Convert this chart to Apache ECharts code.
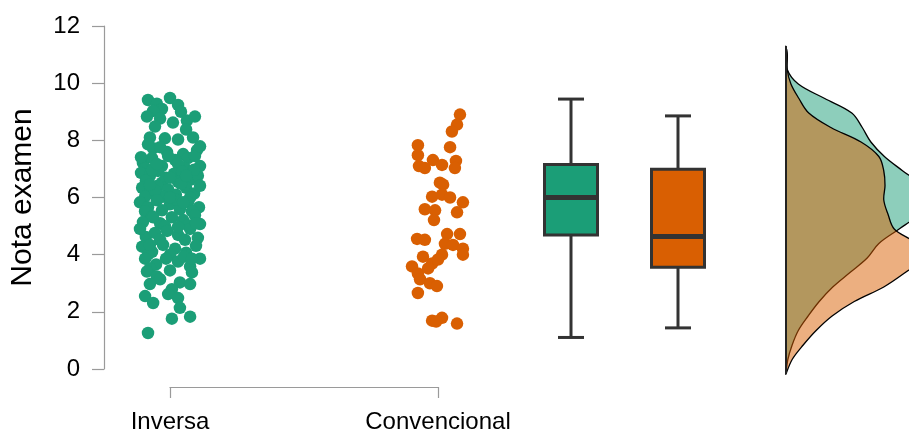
<!DOCTYPE html>
<html>
<head>
<meta charset="utf-8">
<script src="https://cdn.jsdelivr.net/npm/echarts@6/dist/echarts.min.js"></script>
<style>
  html, body { margin: 0; padding: 0; background: #fff; }
  #main { width: 909px; height: 434px; }
</style>
</head>
<body>
<div id="main"></div>
<script>
// groups and colours
const groups = ['Inversa', 'Convencional'];
const groupColors = ['#1b9e77', '#d95f02'];

// jittered points: offset from the group position, and score
const inversaJitter = [-0.082, -0.049, 0, 0.030, -0.030, -0.063, 0.041,
  0.063, 0.093, -0.086, 0.011, -0.037,
  -0.056, -0.019, 0.030, 0.086, 0.060, -0.075,
  -0.082, -0.063, -0.011, 0.049, 0.101, -0.037,
  -0.101, -0.067, -0.030, 0.019, 0.067, 0.112, -0.007, -0.093, 0.056, 0.093, 0.030,
  -0.108, -0.075, -0.045, -0.015, 0.015, 0.045, 0.075, 0.104, -0.090, -0.030, 0.030, -0.067, 0.090,
  -0.104, -0.075, -0.045, -0.007, 0.022, 0.060, 0.090, 0.112, -0.093, -0.026, 0.041, 0.075, -0.056,
  -0.112, -0.082, -0.049, 0, 0.037, 0.067, 0.108, -0.030, -0.093, 0.082, 0.022,
  -0.101, -0.067, -0.037, 0.007, 0.049, 0.093, 0.112, -0.019, 0.067,
  -0.090, -0.056, -0.011, 0.030, 0.075, 0.104, -0.037, 0.056,
  -0.104, -0.067, -0.026, 0.019, 0.060, 0.097, 0, -0.082,
  -0.093, -0.052, -0.015, 0.030, 0.075, 0.112, -0.075, 0.052,
  -0.086, -0.049, 0, -0.037, 0.082, 0.037,
  -0.075, 0.075, 0.007, -0.007, -0.093,
  -0.063, 0.030, 0.037,
  0.075, 0.007,
  -0.082,
  -0.108, 0.112, -0.049, 0, 0.060, -0.075, 0, 0.049, -0.063, 0.030, -0.075, 0.082, -0.112, 0.097];
const inversaScores = [9.41, 9.28, 9.48, 9.24, 9.10, 9.03, 9.00,
  8.69, 8.83, 8.83, 8.62, 8.76,
  8.48, 8.07, 8.03, 8.10, 8.38, 8.10,
  7.86, 7.72, 7.59, 7.52, 7.66, 7.76,
  7.21, 7.38, 7.10, 7.31, 7.38, 7.10, 7.45, 7.03, 7.03, 7.45, 7.17,
  6.86, 6.76, 6.93, 6.69, 6.83, 6.90, 6.62, 6.76, 6.59, 6.52, 6.55, 6.97, 6.97,
  6.34, 6.17, 6.41, 6.28, 6.10, 6.34, 6.14, 6.41, 6.03, 6.03, 6.48, 6.00, 6.24,
  5.83, 5.66, 5.90, 5.76, 5.59, 5.83, 5.66, 5.55, 5.52, 5.52, 5.93,
  5.14, 5.34, 5.10, 5.31, 5.21, 5.38, 5.07, 5.00, 5.03,
  4.62, 4.76, 4.83, 4.69, 4.90, 4.59, 4.52, 4.52,
  4.28, 4.10, 4.34, 4.21, 4.07, 4.31, 4.00, 4.00,
  3.86, 3.66, 3.86, 3.76, 3.59, 3.86, 3.52, 3.93,
  3.41, 3.24, 3.45, 3.14, 3.38, 3.03,
  2.97, 2.97, 2.79, 2.62, 2.55,
  2.31, 2.48, 2.14,
  1.83, 1.76,
  1.26,
  7.41, 7.79, 7.17, 6.69, 6.76, 6.45, 6.00, 5.83, 5.31, 4.97, 4.34, 3.86, 4.90, 5.10];

const convJitter = [0.082, 0.071, 0.052, -0.075, 0.045, -0.075, -0.019, 0.067, -0.071, -0.049,
  0.015, 0.063, 0.007, 0.019, -0.022, 0.015, 0.045, 0.093, -0.049, -0.011,
  0.071, -0.015, -0.078, -0.049, 0.034, 0.082, 0.026, 0.056, 0.093, 0.093,
  -0.056, 0.015, -0.097, -0.022, 0, -0.075, -0.037, -0.067, -0.030, -0.004,
  -0.075, -0.022, 0.015, 0.071, -0.007];
const convScores = [8.90, 8.55, 8.31, 7.83, 7.76, 7.48, 7.31, 7.28, 7.10, 7.03,
  7.14, 7.03, 6.52, 6.45, 6.03, 6.10, 6.00, 5.83, 5.59, 5.55,
  5.48, 5.21, 4.55, 4.52, 4.72, 4.72, 4.38, 4.34, 4.21, 4.00,
  3.93, 4.00, 3.59, 3.69, 3.83, 3.34, 3.52, 3.14, 3.00, 2.90,
  2.66, 1.69, 1.79, 1.59, 1.66];

// box summaries: [min, Q1, median, Q3, max]
const inversaBox = [1.26, 4.79, 6.09, 7.22, 9.48];
const convBox = [1.59, 3.68, 4.74, 7.06, 8.90];

// density estimates, read along the score axis
const densityScores = [0, 0.5, 1, 1.5, 2, 2.5, 3, 3.5, 4, 4.5, 5, 5.5, 6, 6.5, 7, 7.5, 8, 8.5, 9, 9.5, 10, 10.5, 11, 11.3];
const inversaDensity = [0, 0.003, 0.010, 0.020, 0.036, 0.054, 0.076, 0.104, 0.132, 0.151, 0.184, 0.215, 0.224, 0.220, 0.190, 0.160, 0.138, 0.124, 0.107, 0.063, 0.020, 0.002, 0.002, 0];
const convDensity = [0, 0.010, 0.028, 0.049, 0.075, 0.111, 0.159, 0.194, 0.224, 0.211, 0.176, 0.166, 0.159, 0.161, 0.159, 0.151, 0.122, 0.073, 0.037, 0.021, 0.008, 0.002, 0.002, 0];

function points(jitter, scores, pos) {
  const out = [];
  for (let i = 0; i < Math.min(jitter.length, scores.length); i++) {
    out.push([pos + jitter[i], scores[i]]);
  }
  return out;
}

const densities = [inversaDensity, convDensity];
const densityFills = ['rgba(27,158,119,0.5)', 'rgba(217,95,2,0.5)'];
const axisGrey = '#9a9a9a';
const font = '"Liberation Sans", Arial, sans-serif';

function renderBox(params, api) {
  const idx = api.value(0);
  const lo = api.coord([idx, api.value(1)]);
  const q1 = api.coord([idx, api.value(2)]);
  const med = api.coord([idx, api.value(3)]);
  const q3 = api.coord([idx, api.value(4)]);
  const hi = api.coord([idx, api.value(5)]);
  const cx = med[0];
  const bw = 53, cap = 26;
  const ln = { stroke: '#333', lineWidth: 3 };
  return {
    type: 'group',
    children: [
      { type: 'line', shape: { x1: cx, y1: hi[1], x2: cx, y2: q3[1] }, style: ln },
      { type: 'line', shape: { x1: cx, y1: q1[1], x2: cx, y2: lo[1] }, style: ln },
      { type: 'line', shape: { x1: cx - cap / 2, y1: hi[1], x2: cx + cap / 2, y2: hi[1] }, style: ln },
      { type: 'line', shape: { x1: cx - cap / 2, y1: lo[1], x2: cx + cap / 2, y2: lo[1] }, style: ln },
      { type: 'rect', shape: { x: cx - bw / 2, y: q3[1], width: bw, height: q1[1] - q3[1] },
        style: { fill: groupColors[idx], stroke: '#333', lineWidth: 3 } },
      { type: 'line', shape: { x1: cx - bw / 2, y1: med[1], x2: cx + bw / 2, y2: med[1] },
        style: { stroke: '#333', lineWidth: 5 } }
    ]
  };
}

function renderDensity(params, api) {
  const k = params.dataIndex;
  const dens = densities[k];
  const pts = densityScores.map((s, i) => api.coord([dens[i], s]));
  let minX = Infinity, minY = Infinity, maxX = -Infinity, maxY = -Infinity;
  pts.forEach(p => {
    minX = Math.min(minX, p[0]); maxX = Math.max(maxX, p[0]);
    minY = Math.min(minY, p[1]); maxY = Math.max(maxY, p[1]);
  });
  const children = [{
    type: 'polygon',
    shape: { points: pts, smooth: 0.35, smoothConstraint: [[minX, minY], [maxX, maxY]] },
    style: { fill: densityFills[k], stroke: '#000', lineWidth: 1.3 },
    z2: k
  }];
  if (k === 1) {
    const a = api.coord([0, densityScores[0]]);
    const b = api.coord([0, densityScores[densityScores.length - 1]]);
    children.push({ type: 'line', shape: { x1: a[0], y1: a[1], x2: b[0], y2: b[1] },
      style: { stroke: '#222', lineWidth: 2 }, z2: 5 });
  }
  return { type: 'group', children: children };
}

const chart = echarts.init(document.getElementById('main'));
chart.setOption({
  animation: false,
  backgroundColor: '#fff',
  textStyle: { fontFamily: font },
  grid: [
    { left: 170, top: 26, width: 268, height: 348 },
    { left: 517.5, top: 26, width: 214, height: 348 },
    { left: 786, top: 26, width: 123, height: 348 }
  ],
  xAxis: [
    {
      gridIndex: 0, type: 'value', min: 1, max: 2, interval: 1, offset: 18,
      axisLine: { show: true, onZero: false, lineStyle: { color: axisGrey, width: 1.2 } },
      axisTick: { show: true, length: 11, lineStyle: { color: axisGrey, width: 1.2 } },
      axisLabel: { color: '#000', fontSize: 24, margin: 23, formatter: v => groups[v - 1] || '' },
      splitLine: { show: false }
    },
    { gridIndex: 1, type: 'category', data: groups, show: false },
    { gridIndex: 2, type: 'value', min: 0, max: 0.2, show: false }
  ],
  yAxis: [
    {
      gridIndex: 0, type: 'value', min: 0, max: 12, interval: 2, offset: 66,
      name: 'Nota examen', nameLocation: 'middle', nameGap: 66,
      nameTextStyle: { color: '#000', fontSize: 30 },
      axisLine: { show: true, onZero: false, lineStyle: { color: axisGrey, width: 1.2 } },
      axisTick: { show: true, length: 12, lineStyle: { color: axisGrey, width: 1.2 } },
      axisLabel: { color: '#000', fontSize: 24, margin: 24 },
      splitLine: { show: false }
    },
    { gridIndex: 1, type: 'value', min: 0, max: 12, show: false },
    { gridIndex: 2, type: 'value', min: 0, max: 12, show: false }
  ],
  series: [
    {
      type: 'scatter', name: groups[0], xAxisIndex: 0, yAxisIndex: 0, clip: false,
      symbolSize: 12.5, itemStyle: { color: groupColors[0], opacity: 1 },
      data: points(inversaJitter, inversaScores, 1)
    },
    {
      type: 'scatter', name: groups[1], xAxisIndex: 0, yAxisIndex: 0, clip: false,
      symbolSize: 12.5, itemStyle: { color: groupColors[1], opacity: 1 },
      data: points(convJitter, convScores, 2)
    },
    {
      type: 'custom', xAxisIndex: 1, yAxisIndex: 1,
      renderItem: renderBox,
      encode: { x: 0, y: [1, 2, 3, 4, 5] },
      data: [[0].concat(inversaBox), [1].concat(convBox)]
    },
    {
      type: 'custom', xAxisIndex: 2, yAxisIndex: 2, clip: false,
      renderItem: renderDensity,
      data: [[0, 0], [0, 0]]
    }
  ]
});
</script>
</body>
</html>
